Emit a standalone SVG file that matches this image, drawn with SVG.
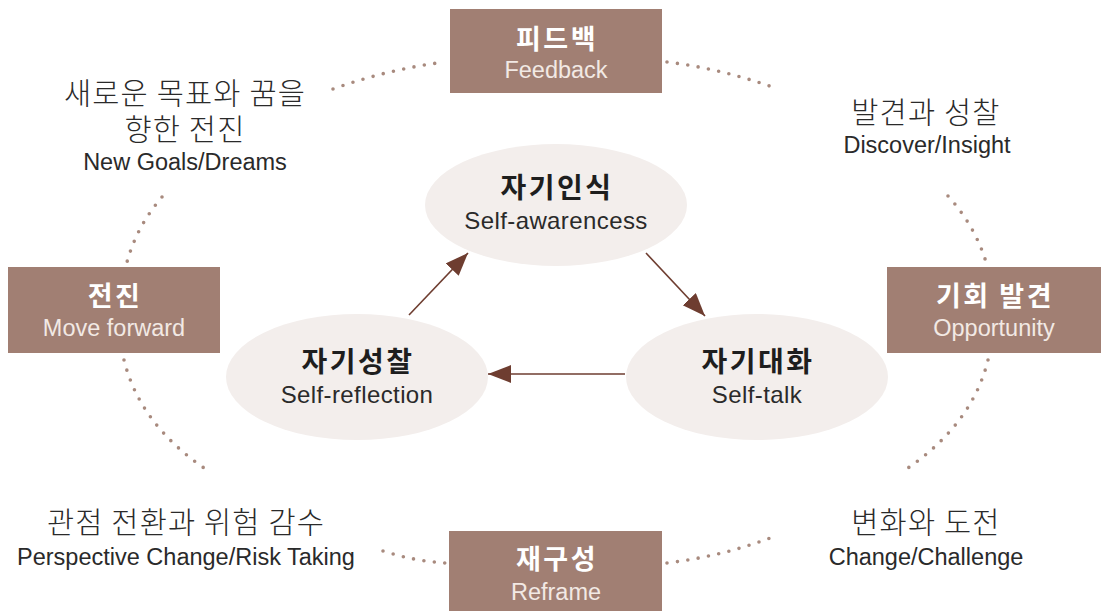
<svg xmlns="http://www.w3.org/2000/svg" width="1101" height="611" viewBox="0 0 1101 611">
<defs>
<style>
.box{fill:#a17f73}
.ell{fill:#f3eeec}
.dots{fill:none;stroke:#a88a7e;stroke-width:3.6;stroke-linecap:round;stroke-dasharray:0 10.5}
.arr{fill:none;stroke:#6e3d30;stroke-width:1.6}
.bt{font-family:"Noto Sans CJK KR",sans-serif;font-weight:700;font-size:27px;letter-spacing:2.5px;fill:#ffffff;text-anchor:middle}
.be{font-family:"Liberation Sans","Noto Sans CJK KR",sans-serif;font-size:23.5px;fill:#f2e9e4;text-anchor:middle}
.ct{font-family:"Noto Sans CJK KR",sans-serif;font-weight:700;font-size:28px;letter-spacing:2.5px;fill:#1e1e1e;text-anchor:middle}
.ce{font-family:"Liberation Sans","Noto Sans CJK KR",sans-serif;font-size:24px;letter-spacing:0.4px;fill:#2a2a2a;text-anchor:middle}
.lk{font-family:"Noto Sans CJK KR",sans-serif;font-weight:300;font-size:29.5px;letter-spacing:1.2px;fill:#2a2a2a;text-anchor:middle}
.le{font-family:"Liberation Sans","Noto Sans CJK KR",sans-serif;font-size:23.5px;fill:#2a2a2a;text-anchor:middle}
</style>
<marker id="ah" markerUnits="userSpaceOnUse" markerWidth="26" markerHeight="20" refX="23" refY="9" orient="auto">
<path d="M0,0 L23,9 L0,18 z" fill="#6e3d30"/>
</marker>
</defs>
<rect width="1101" height="611" fill="#ffffff"/>

<g id="connectors">
<path class="dots" d="M333,89 Q389,69 445,62"/>
<path class="dots" d="M667,62 Q723,69 778,89"/>
<path class="dots" d="M162,197 Q137,226 127,262"/>
<path class="dots" d="M124,360 Q140,425 207,470"/>
<path class="dots" d="M948,196 Q975,226 986,262"/>
<path class="dots" d="M988,360 Q972,425 905,470"/>
<path class="dots" d="M383,551 Q414,561 445,563"/>
<path class="dots" d="M667,563 Q725,556 778,535"/>
<path class="arr" d="M409,315 L468,253" marker-end="url(#ah)"/>
<path class="arr" d="M646,253 L705,316" marker-end="url(#ah)"/>
<path class="arr" d="M625,374 L488,374" marker-end="url(#ah)"/>
</g>

<g id="feedback">
<rect class="box" x="450" y="9" width="212" height="84"/>
<text class="bt" x="557" y="49">피드백</text>
<text class="be" x="556" y="78">Feedback</text>
</g>
<g id="move-forward">
<rect class="box" x="8" y="267" width="212" height="86"/>
<text class="bt" x="115" y="306">전진</text>
<text class="be" x="114" y="336">Move forward</text>
</g>
<g id="opportunity">
<rect class="box" x="887" y="267" width="214" height="86"/>
<text class="bt" x="995" y="306">기회 발견</text>
<text class="be" x="994" y="336">Opportunity</text>
</g>
<g id="reframe">
<rect class="box" x="449" y="531" width="213" height="80"/>
<text class="bt" x="557" y="569">재구성</text>
<text class="be" x="556" y="600">Reframe</text>
</g>

<g id="self-awareness">
<ellipse class="ell" cx="556" cy="205" rx="131" ry="61"/>
<text class="ct" x="557" y="198">자기인식</text>
<text class="ce" x="556" y="229">Self-awarencess</text>
</g>
<g id="self-talk">
<ellipse class="ell" cx="757" cy="377" rx="131" ry="63"/>
<text class="ct" x="758" y="372">자기대화</text>
<text class="ce" x="757" y="403">Self-talk</text>
</g>
<g id="self-reflection">
<ellipse class="ell" cx="357" cy="377" rx="131" ry="63"/>
<text class="ct" x="358" y="372">자기성찰</text>
<text class="ce" x="357" y="403">Self-reflection</text>
</g>

<g id="new-goals">
<text class="lk" x="185" y="104">새로운 목표와 꿈을</text>
<text class="lk" x="185" y="140">향한 전진</text>
<text class="le" x="185" y="170">New Goals/Dreams</text>
</g>
<g id="discover">
<text class="lk" x="926" y="123">발견과 성찰</text>
<text class="le" x="927" y="153">Discover/Insight</text>
</g>
<g id="perspective">
<text class="lk" x="186" y="533">관점 전환과 위험 감수</text>
<text class="le" x="186" y="565">Perspective Change/Risk Taking</text>
</g>
<g id="change">
<text class="lk" x="926" y="533">변화와 도전</text>
<text class="le" x="926" y="565">Change/Challenge</text>
</g>
</svg>
